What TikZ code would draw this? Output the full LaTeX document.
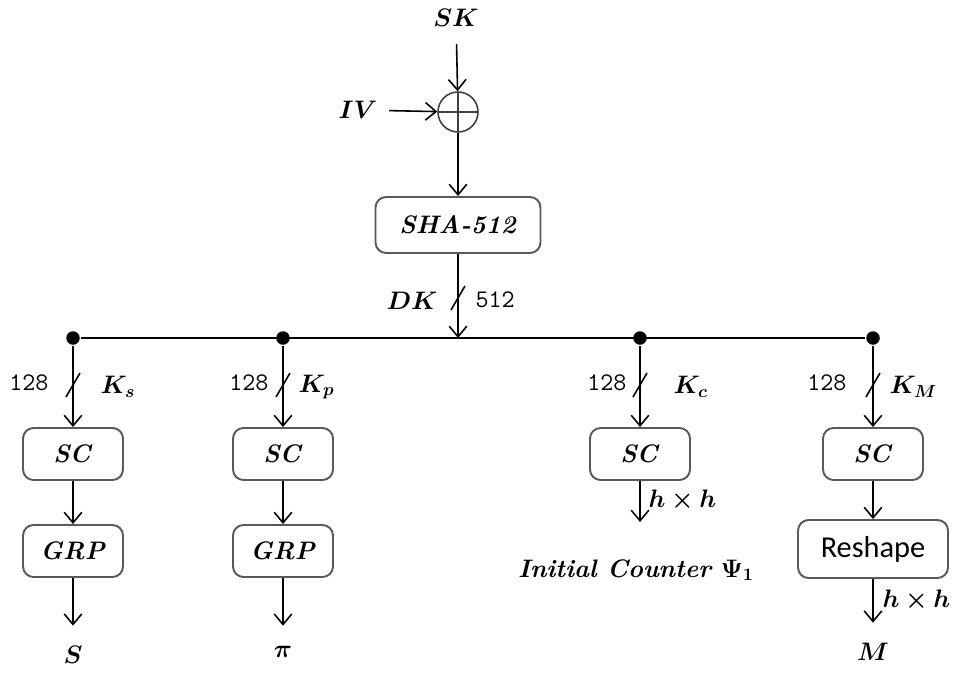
\documentclass[tikz,border=0pt]{standalone}
\usepackage{amsmath,bm}
\usepackage{fontspec}
\newfontfamily\calib{Carlito}
\usetikzlibrary{arrows.meta}

\begin{document}
\begin{tikzpicture}[x=0.02cm, y=-0.02cm, every node/.style={font=\Large}, line width=0.9pt,
  >={Straight Barb[length=6pt,width=10pt]},
  blk/.style={draw=black!65, line width=1.1pt, rounded corners=6pt, inner sep=2pt},
  scbox/.style={blk, minimum width=2cm, minimum height=1.04cm},
  dot/.style={fill, circle, inner sep=0pt, minimum size=0.27cm},
  xr/.style={draw=black!75, circle, minimum size=0.8cm, inner sep=0pt,
    path picture={\draw (path picture bounding box.north) -- (path picture bounding box.south)
      (path picture bounding box.west) -- (path picture bounding box.east);}},
  bits/.style={font=\Large\ttfamily, inner sep=1pt},
  tag/.style={inner sep=1pt}]
\useasboundingbox (0,0) rectangle (956,673);

% ---------- key derivation ----------
\node (sk) at (456,18) {$\bm{SK}$};
\node[xr] (xr) at (458,112) {};
\node (iv) at (358,110) {$\bm{IV}$};
\node[blk, minimum width=3.3cm, minimum height=1.12cm] (sha) at (458,225) {\textbf{\textit{SHA-512}}};
\draw[->, shorten <=6pt] (sk) -- (xr);
\draw[->, shorten <=3pt] (iv) -- (xr);
\draw[->] (xr) -- (sha);
\coordinate (jn) at (458,338);
\draw[->] (sha) -- (jn);
\coordinate (sl0) at (458,298);
\draw ([shift={(-7,12)}]sl0) -- ([shift={(7,-12)}]sl0);
\node[tag, anchor=east] (dk) at (440,301) {$\bm{DK}$};
\node[bits, anchor=west] (w0) at (473,300) {512};

% ---------- bus and the four branches ----------
\foreach \i/\x in {s/73,p/283,c/640,m/873}
  \node[dot] (d\i) at (\x,338) {};
\draw (ds) -- (dm);
\foreach \i/\x/\k/\a/\b in {s/73/s/22/25,p/283/p/12/13,c/640/c/11/31,m/873/M/24/14} {
  \node[scbox] (sc\i) at (\x,454) {\textbf{\textit{SC}}};
  \draw[->] (d\i) -- (sc\i);
  \coordinate (sl\i) at (\x,385);
  \draw ([shift={(-7,12)}]sl\i) -- ([shift={(7,-12)}]sl\i);
  \node[bits, anchor=east] (n\i) at (\x-\a,383) {128};
  \node[tag, anchor=west] (k\i) at (\x+\b,387) {$\bm{K_{\k}}$};
}

% ---------- outputs ----------
\node[scbox] (grps) at (73,551) {\textbf{\textit{GRP}}};
\node[scbox] (grpp) at (283,551) {\textbf{\textit{GRP}}};
\node (outs) at (73,655) {$\bm{S}$};
\node (outp) at (283,652) {$\bm{\pi}$};
\draw[->] (scs) -- (grps);
\draw[->] (scp) -- (grpp);
\draw[->, shorten >=0.28cm] (grps) -- (outs);
\draw[->, shorten >=0.28cm] (grpp) -- (outp);

\coordinate (hc) at (640,522);
\draw[->] (scc) -- (hc);
\node[tag, anchor=west] (hhc) at (646,500) {$\bm{h\times h}$};
\node (ctr) at (636,570) {\textbf{\textit{Initial Counter}} $\bm{\Psi_1}$};

\node[blk, minimum width=3cm, minimum height=1.16cm] (rsh) at (873,549) {\calib\LARGE Reshape};
\node (outm) at (873,652) {$\bm{M}$};
\draw[->] (scm) -- (rsh);
\draw[->, shorten >=0.28cm] (rsh) -- (outm);
\node[tag, anchor=west] (hhm) at (880,600) {$\bm{h\times h}$};
\end{tikzpicture}
\end{document}
